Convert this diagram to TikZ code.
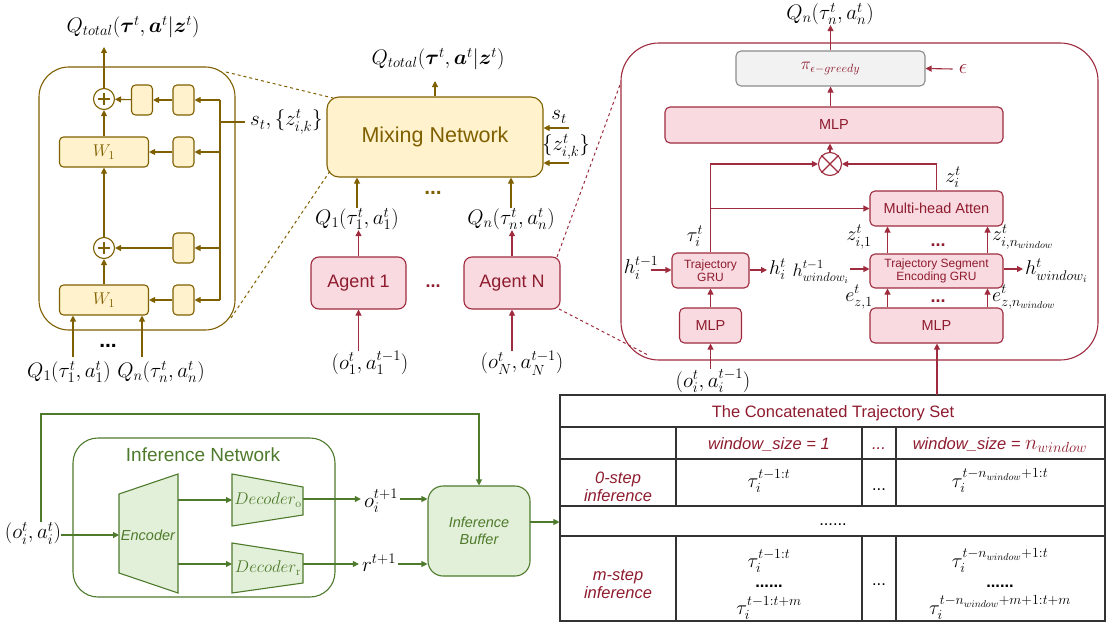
\RequirePackage{fix-cm}
\documentclass[tikz,border=0pt]{standalone}
\usepackage{amsmath}
\usepackage{bm}
\usepackage{fontspec}
\newfontfamily\arial{Liberation Sans}
\usetikzlibrary{arrows.meta}

\definecolor{olv}{HTML}{7F6000}
\definecolor{olvfill}{HTML}{FFF2CC}
\definecolor{rd}{HTML}{9E2B3E}
\definecolor{rdfill}{HTML}{F9DAE0}
\definecolor{rdtext}{HTML}{8E1B2E}
\definecolor{gr}{HTML}{4E7A2C}
\definecolor{grfill}{HTML}{E3F0D9}
\definecolor{gyfill}{HTML}{F2F2F2}
\definecolor{gy}{HTML}{8C8C8C}

\newcommand\fsQ{\fontsize{21}{25}\selectfont}
\newcommand\fsM{\fontsize{20}{24}\selectfont}
\newcommand\fsMs{\fontsize{18}{22}\selectfont}
\newcommand\fsT{\fontsize{16.5}{18}\selectfont}
\newcommand\fsS{\fontsize{14.5}{17}\selectfont}
\newcommand\fsP{\fontsize{17}{20}\selectfont}
\newcommand\fsX{\fontsize{12}{13.5}\selectfont}
\newcommand\fsL{\fontsize{21.5}{25}\selectfont}
\newcommand\fsAg{\fontsize{18}{21}\selectfont}
\newcommand\fsI{\fontsize{19}{22}\selectfont}
\newcommand\fsTM{\fontsize{20}{23}\selectfont}

\begin{document}
\begin{tikzpicture}[x=1pt,y=-1pt,
  oline/.style={draw=olv, line width=1.1pt},
  oarr/.style={oline, -{Triangle[length=6pt,width=6pt]}},
  obox/.style={draw=olv, fill=olvfill, line width=1.1pt, rounded corners=4pt, inner sep=0pt},
  rline/.style={draw=rd, line width=1.1pt},
  rarr/.style={rline, -{Triangle[length=6pt,width=6pt]}},
  rbox/.style={draw=rd, fill=rdfill, line width=1.1pt, rounded corners=5pt, inner sep=0pt, text=rdtext, align=center},
  gline/.style={draw=gr, line width=1.1pt},
  garr/.style={gline, -{Triangle[length=6pt,width=6pt]}},
  gshape/.style={draw=gr, fill=grfill, line width=1.1pt},
  lbl/.style={inner sep=0pt},
  tline/.style={draw=black!80, line width=1.1pt},
  tcell/.style={inner sep=0pt, anchor=base},
  zoomo/.style={draw=olv, line width=1pt, dashed},
  zoomr/.style={draw=rd, line width=1pt, dashed},
]
\useasboundingbox (0,0) rectangle (1107,626);

% ================= mixing network, detailed view =================
\node[oline, rounded corners=30pt, minimum width=196pt, minimum height=263pt] (detail) at (137,198.5) {};

\node[circle, draw=olv, line width=1.1pt, fill=white, minimum size=21pt, inner sep=0pt] (plusA) at (104,99) {};
\node[circle, draw=olv, line width=1.1pt, fill=white, minimum size=21pt, inner sep=0pt] (plusB) at (104,248) {};
\foreach \c in {plusA,plusB}{
  \draw[olv, line width=1.5pt] ([xshift=-6pt]\c.center) -- ([xshift=6pt]\c.center)
                               ([yshift=-6pt]\c.center) -- ([yshift=6pt]\c.center);
}
\node[obox, minimum width=21pt, minimum height=30pt] (sq1) at (142,100) {};
\node[obox, minimum width=21pt, minimum height=30pt] (sq2) at (183.5,100) {};
\node[obox, minimum width=21pt, minimum height=30pt] (sq3) at (183.5,152) {};
\node[obox, minimum width=21pt, minimum height=30pt] (sq4) at (183.5,248) {};
\node[obox, minimum width=21pt, minimum height=30pt] (sq5) at (183.5,300) {};
\node[obox, minimum width=89pt, minimum height=30pt, text=olv, font=\fsP] (wa) at (104,152) {$W_1$};
\node[obox, minimum width=89pt, minimum height=30pt, text=olv, font=\fsP] (wb) at (104,300) {$W_1$};

\coordinate (busT) at (220,100);
\coordinate (busB) at (220,300);
\draw[oline] (busT) -- (busB);
\draw[oarr] (busT) -- (sq2);
\draw[oarr] (sq2) -- (sq1);
\draw[oarr] (sq1) -- (plusA);
\draw[oarr] (busT |- sq3) -- (sq3);
\draw[oarr] (sq3) -- (wa);
\draw[oarr] (busT |- sq4) -- (sq4);
\draw[oarr] (sq4) -- (plusB);
\draw[oarr] (busB) -- (sq5);
\draw[oarr] (sq5) -- (wb);

\node[lbl, anchor=west, font=\fsQ] (slbl) at (250,122) {$s_t,\{z_{i,k}^t\}$};
\draw[oline] (busT |- slbl.west) -- ([xshift=-5pt]slbl.west);

\draw[oarr] (wb) -- (plusB);
\draw[oarr] (plusB) -- (wa);
\draw[oarr] (wa) -- (plusA);
\node[lbl, font=\fsQ] (qtl) at (133,27) {$Q_{total}(\bm{\tau}^t,\bm{a}^t|\bm{z}^t)$};
\coordinate (qtlin) at (104,47);
\draw[oarr] (plusA) -- (qtlin);

\node[lbl, font=\fsQ] (q1d) at (69,372) {$Q_1(\tau_1^t,a_1^t)$};
\node[lbl, font=\fsQ] (qnd) at (161,372) {$Q_n(\tau_n^t,a_n^t)$};
\coordinate (q1in) at (73,357);
\coordinate (qnin) at (142,357);
\draw[oarr] (q1in) -- (q1in |- wb.south);
\draw[oarr] (qnin) -- (qnin |- wb.south);
\node[tcell, font=\arial\bfseries\fsQ] (dotsd) at (108,347) {...};

% ================= mixing network =================
\node[obox, rounded corners=12pt, minimum width=216pt, minimum height=80pt, text=olv, font=\arial\fsL] (mix) at (435,137) {Mixing Network};
\node[lbl, font=\fsQ] (qt2) at (438,59) {$Q_{total}(\bm{\tau}^t,\bm{a}^t|\bm{z}^t)$};
\coordinate (qt2in) at (435,81);
\draw[oarr] (mix.north) -- (qt2in);

\node[lbl, font=\fsQ] (stl) at (559,117) {$s_t$};
\node[lbl, font=\fsQ] (zkl) at (566,147) {$\{z_{i,k}^t\}$};
\coordinate (stin) at (569,128);
\coordinate (zkin) at (569,163);
\draw[oarr] (stin) -- (stin -| mix.east);
\draw[oarr] (zkin) -- (zkin -| mix.east);

\node[lbl, font=\fsQ] (q1m) at (357,219) {$Q_1(\tau_1^t,a_1^t)$};
\node[lbl, font=\fsQ] (qnm) at (511,219) {$Q_n(\tau_n^t,a_n^t)$};
\draw[oarr] (q1m.north) -- (q1m.north |- mix.south);
\draw[oarr] (qnm.north) -- (qnm.north |- mix.south);
\node[tcell, font=\arial\bfseries\fsQ, text=olv] (dotsm) at (433,194) {...};

% ================= agents =================
\node[rbox, rounded corners=8pt, minimum width=95pt, minimum height=52pt, font=\arial\fsAg] (ag1) at (358.5,283) {Agent 1};
\node[rbox, rounded corners=8pt, minimum width=96pt, minimum height=52pt, font=\arial\fsAg] (agn) at (512,283) {Agent N};
\node[tcell, font=\arial\bfseries\fsAg, text=rdtext] (dotsa) at (433,287) {...};
\draw[rarr] (ag1.north) -- (ag1.north |- q1m.south);
\draw[rarr] (agn.north) -- (agn.north |- qnm.south);
\node[lbl, font=\fsQ] (o1) at (370,363) {$(o_1^t,a_1^{t-1})$};
\node[lbl, font=\fsQ] (on) at (522,363) {$(o_N^t,a_N^{t-1})$};
\draw[rarr] (ag1.south |- o1.north) -- (ag1.south);
\draw[rarr] (agn.south |- on.north) -- (agn.south);

% zoom guides
\coordinate (zo1) at (226,72);
\coordinate (zo2) at (333,98);
\coordinate (zo3) at (231,318);
\coordinate (zo4) at (330,171);
\draw[zoomo] (zo1) -- (zo2);
\draw[zoomo] (zo3) -- (zo4);

% ================= agent network, detailed view =================
\node[rline, rounded corners=38pt, minimum width=477pt, minimum height=317pt] (agbox) at (859.5,201.5) {};
\coordinate (zr1) at (557,257);
\coordinate (zr2) at (621,82);
\coordinate (zr3) at (559,309);
\coordinate (zr4) at (648,355);
\draw[zoomr] (zr1) -- (zr2);
\draw[zoomr] (zr3) -- (zr4);

\node[draw=gy, fill=gyfill, line width=1.1pt, rounded corners=5pt, minimum width=189pt, minimum height=35pt, inner sep=0pt, text=rdtext, font=\fsP] (pi) at (830.5,68.5) {$\pi_{\epsilon-greedy}$};
\node[lbl, font=\fsQ] (qnr) at (830,14) {$Q_n(\tau_n^t,a_n^t)$};
\draw[rarr] (pi.north) -- (pi.north |- qnr.south);
\node[lbl, font=\fsQ, text=rdtext] (eps) at (963,69) {$\epsilon$};
\draw[rarr] ([xshift=-6pt]eps.west) -- (pi.east);

\node[rbox, minimum width=338pt, minimum height=36pt, font=\arial\fsS] (mlpT) at (834,125) {MLP};
\draw[rarr] (pi.south |- mlpT.north) -- (pi.south);

\node[circle, draw=rd, line width=1.1pt, fill=white, minimum size=23pt, inner sep=0pt] (ot) at (830,164) {};
\draw[rd, line width=1.1pt] (ot.45) -- (ot.225) (ot.135) -- (ot.315);
\draw[rarr] (ot) -- (ot |- mlpT.south);

\node[rbox, minimum width=133pt, minimum height=35pt, font=\arial\fsS] (mha) at (936.5,208.5) {Multi-head Atten};
\node[rbox, minimum width=77pt, minimum height=35pt, font=\arial\fsX] (tgru) at (710.5,270.5) {Trajectory\\GRU};
\node[rbox, minimum width=62pt, minimum height=35pt, font=\arial\fsS] (mlps) at (710.5,325.5) {MLP};
\node[rbox, minimum width=133pt, minimum height=34pt, font=\arial\fsX] (tseg) at (936.5,271) {Trajectory Segment\\Encoding GRU};
\node[rbox, minimum width=133pt, minimum height=35pt, font=\arial\fsS] (mlpb) at (936.5,325.5) {MLP};

\draw[rarr] (tgru.north) |- (ot.west);
\draw[rarr] (tgru.north |- mha.west) -- (mha.west);
\draw[rarr] (mha.north) |- (ot.east);

\node[lbl, font=\fsM] (taul) at (695,236) {$\tau_i^t$};
\node[lbl, font=\fsM] (zil) at (953,177) {$z_i^t$};

\node[lbl, font=\fsM] (hprev) at (641,268) {$h_i^{t-1}$};
\coordinate (hin) at (651,270);
\draw[rarr] (hin) -- (hin -| tgru.west);
\coordinate (hout) at (767,270);
\draw[rarr] (hout -| tgru.east) -- (hout);
\node[lbl, font=\fsM, anchor=west] (hnext) at (769,269) {$h_i^t$};

\draw[rarr] (mlps.north) -- (mlps.north |- tgru.south);
\node[lbl, font=\fsQ] (oil) at (713,381) {$(o_i^t,a_i^{t-1})$};
\draw[rarr] (mlps.south |- oil.north) -- (mlps.south);

\draw[rarr] ([xshift=-49pt]tseg.north) -- ([xshift=-49pt]mha.south);
\draw[rarr] ([xshift=51pt]tseg.north) -- ([xshift=51pt]mha.south);
\node[tcell, font=\arial\bfseries\fsAg, text=rdtext] (dotsz) at (938,246) {...};
\node[lbl, font=\fsM] (zi1) at (859,237) {$z_{i,1}^t$};
\node[lbl, font=\fsM, anchor=west] (zin) at (992,237) {$z_{i,n_{window}}^t$};

\node[lbl, font=\fsMs, anchor=east] (hwprev) at (849,272) {$h_{window_i}^{t-1}$};
\coordinate (hwin) at (850,269);
\draw[rarr] (hwin) -- (hwin -| tseg.west);
\coordinate (hwout) at (1023,269);
\draw[rarr] (hwout -| tseg.east) -- (hwout);
\node[lbl, font=\fsM, anchor=west] (hwnext) at (1025,271) {$h_{window_i}^t$};

\draw[rarr] ([xshift=-49pt]mlpb.north) -- ([xshift=-49pt]tseg.south);
\draw[rarr] ([xshift=51pt]mlpb.north) -- ([xshift=51pt]tseg.south);
\node[tcell, font=\arial\bfseries\fsAg, text=rdtext] (dotse) at (938,302) {...};
\node[lbl, font=\fsM] (ez1) at (859,297) {$e_{z,1}^t$};
\node[lbl, font=\fsM, anchor=west] (ezn) at (992,297) {$e_{z,n_{window}}^t$};

% ================= concatenated trajectory table =================
\node[tline, minimum width=545pt, minimum height=226pt, inner sep=0pt] (tab) at (832.5,508) {};
\coordinate (tabin) at (937,395);
\draw[rarr] (tabin) -- (tabin |- mlpb.south);
\draw[tline] (560,427) -- (1105,427) (560,459) -- (1105,459)
             (560,506) -- (1105,506) (560,536) -- (1105,536);
\draw[tline] (676,427) -- (676,506) (862,427) -- (862,506) (896,427) -- (896,506)
             (676,536) -- (676,621) (862,536) -- (862,621) (896,536) -- (896,621);

\node[tcell, font=\arial\fsT, text=rdtext] (ttl) at (833,417) {The Concatenated Trajectory Set};
\node[tcell, font=\arial\itshape\fsT, text=rdtext] (hd1) at (769,449) {window\_size = 1};
\node[tcell, font=\arial\itshape\fsT, text=rdtext] (hd2) at (879,449) {...};
\node[tcell, font=\arial\itshape\fsT, text=rdtext] (hd3) at (1000,449) {window\_size = {\fsQ$n_{window}$}};

\node[inner sep=0pt, font=\arial\itshape\fsT, text=rdtext, align=center] (r0) at (618,487) {0-step\\inference};
\node[tcell, font=\fsTM] (r0a) at (769,487) {$\tau_i^{t-1:t}$};
\node[tcell, font=\arial\fsT] (r0b) at (879,490) {...};
\node[tcell, font=\fsTM] (r0c) at (1000,487) {$\tau_i^{t-n_{window}+1:t}$};

\node[tcell, font=\arial\fsT] (rdots) at (833,525) {......};

\node[inner sep=0pt, font=\arial\itshape\fsT, text=rdtext, align=center] (rm) at (618,584) {m-step\\inference};
\node[tcell, font=\fsTM] (rma) at (769,567) {$\tau_i^{t-1:t}$};
\node[tcell, font=\arial\bfseries\fsT] (rmad) at (769,587) {......};
\node[tcell, font=\fsTM] (rmb) at (769,614) {$\tau_i^{t-1:t+m}$};
\node[tcell, font=\arial\fsT] (rmc) at (879,585) {...};
\node[tcell, font=\fsTM] (rmd) at (1000,567) {$\tau_i^{t-n_{window}+1:t}$};
\node[tcell, font=\arial\bfseries\fsT] (rmdd) at (1000,587) {......};
\node[tcell, font=\fsTM] (rme) at (1000,614) {$\tau_i^{t-n_{window}+m+1:t+m}$};

% ================= inference network =================
\node[gline, rounded corners=25pt, minimum width=262pt, minimum height=159pt] (inet) at (204,517.5) {};
\node[lbl, font=\arial\fsI, text=gr] (inettl) at (203,455) {Inference Network};

\draw[gshape] (119,494) -- (178,474) -- (178,593) -- (119,573) -- cycle;
\node[lbl, font=\arial\itshape\fsS, text=gr] (enc) at (148,535) {Encoder};
\draw[gshape] (232,474) -- (303,487) -- (303,515) -- (232,526) -- cycle;
\node[lbl, font=\fsP, text=gr] (deco) at (268,500) {$Decoder_{\mathrm{o}}$};
\draw[gshape] (232,543) -- (303,554) -- (303,583) -- (232,593) -- cycle;
\node[lbl, font=\fsP, text=gr] (decr) at (268,568) {$Decoder_{\mathrm{r}}$};

\coordinate (encR1) at (178,500);
\coordinate (decoL) at (232,500);
\coordinate (encR2) at (178,564);
\coordinate (decrL) at (232,564);
\draw[garr] (encR1) -- (decoL);
\draw[garr] (encR2) -- (decrL);

\node[lbl, font=\fsQ] (inp) at (33,533) {$(o_i^t,a_i^t)$};
\coordinate (encL) at (119,535);
\draw[garr] (inp.east |- encL) -- (encL);

\node[gshape, rounded corners=15pt, minimum width=102pt, minimum height=90pt, inner sep=0pt, font=\arial\itshape\fsS, text=gr, align=center] (buf) at (479,531) {Inference\\Buffer};
\coordinate (fbtop) at (41,414);
\draw[garr] (fbtop |- inp.north) |- (fbtop -| buf.north) -- (buf.north);

\node[lbl, font=\fsQ] (onext) at (381,501) {$o_i^{t+1}$};
\node[lbl, font=\fsQ] (rnext) at (379,563) {$r^{t+1}$};
\coordinate (decoR) at (303,499);
\coordinate (decrR) at (303,564);
\draw[garr] (decoR) -- ([xshift=-3pt]decoR -| onext.west);
\draw[garr] (decrR) -- ([xshift=-3pt]decrR -| rnext.west);
\draw[garr] ([xshift=2pt]onext.east |- decoR) -- (decoR -| buf.west);
\draw[garr] ([xshift=2pt]rnext.east |- decrR) -- (decrR -| buf.west);

\coordinate (bufout) at (530,522);
\draw[garr] (bufout) -- (bufout -| tab.west);
\end{tikzpicture}
\end{document}
